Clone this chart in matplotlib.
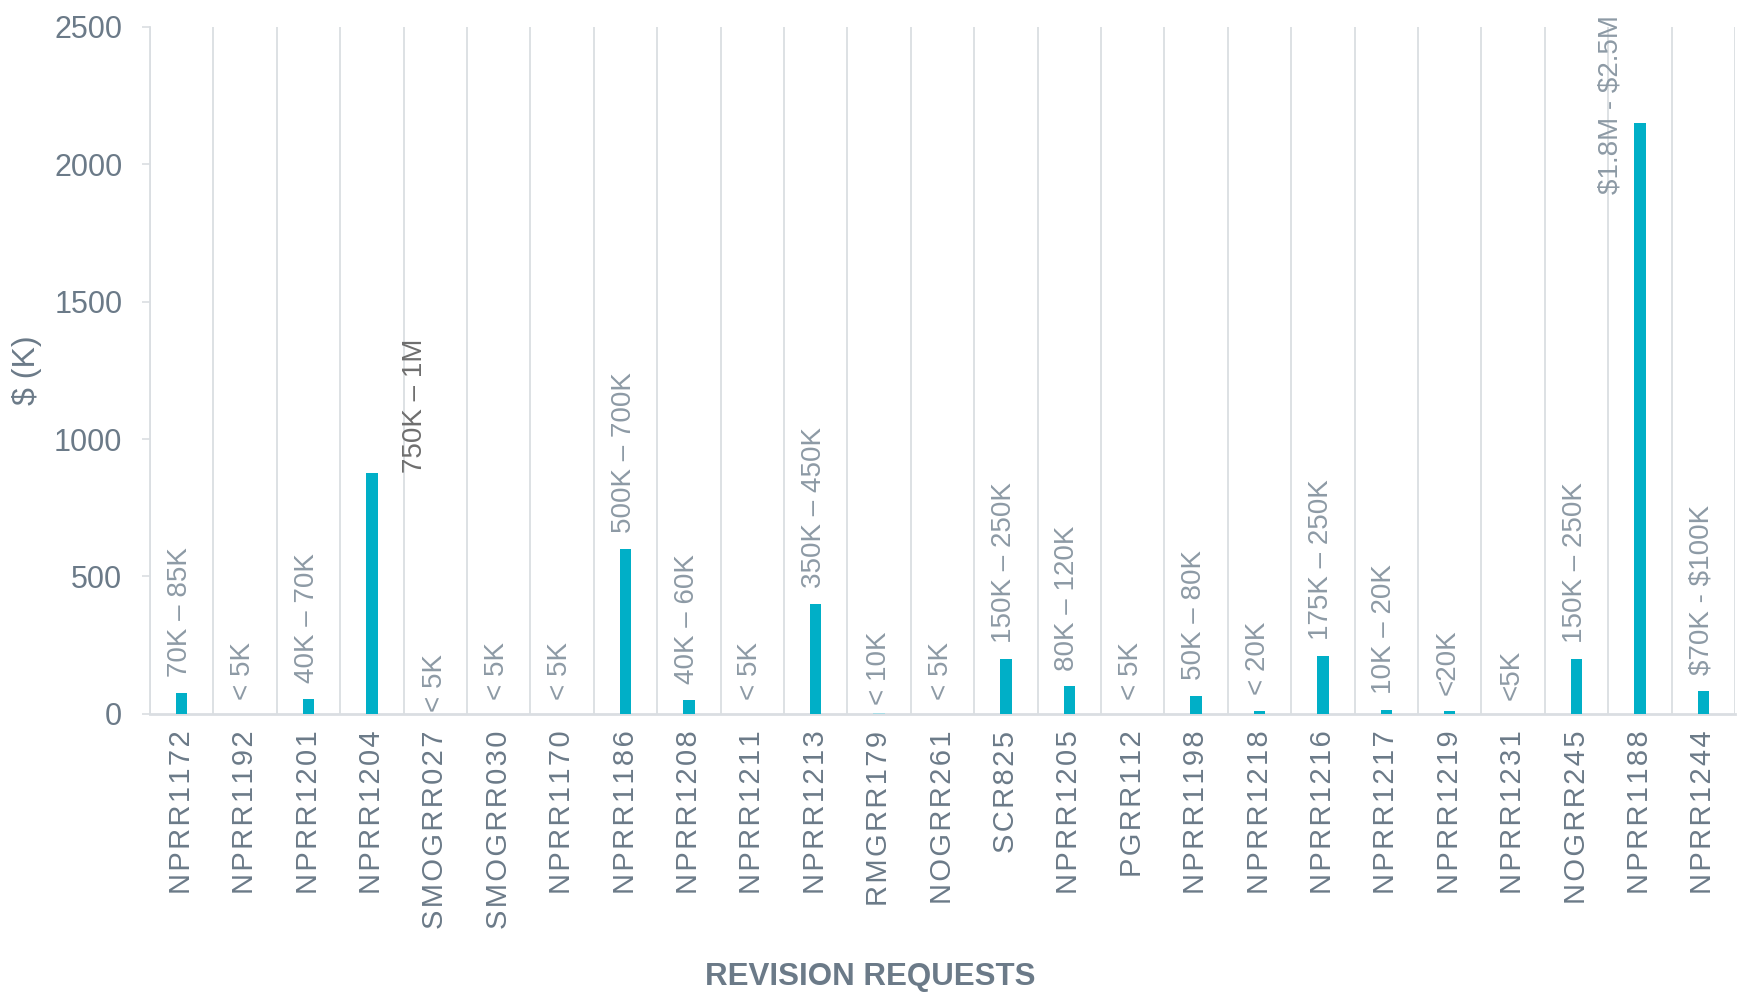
import matplotlib
matplotlib.use("Agg")
import matplotlib.pyplot as plt
import numpy as np

plt.rcParams['font.family'] = ['Liberation Sans', 'DejaVu Sans']
plt.rcParams['text.parse_math'] = False

# revision requests and their estimated cost ($K, midpoint of the range)
requests = ['NPRR1172', 'NPRR1192', 'NPRR1201', 'NPRR1204', 'SMOGRR027', 'SMOGRR030',
            'NPRR1170', 'NPRR1186', 'NPRR1208', 'NPRR1211', 'NPRR1213', 'RMGRR179',
            'NOGRR261', 'SCR825', 'NPRR1205', 'PGRR112', 'NPRR1198', 'NPRR1218',
            'NPRR1216', 'NPRR1217', 'NPRR1219', 'NPRR1231', 'NOGRR245', 'NPRR1188',
            'NPRR1244']
cost = [75, 0, 55, 875, 0, 0, 0, 600, 50, 0, 400, 5, 0, 200, 100, 0, 65, 10,
        212, 15, 10, 0, 200, 2150, 85]
range_labels = ['70K \u2013 85K', '< 5K', '40K \u2013 70K', '750K \u2013 1M', '< 5K', '< 5K',
                '< 5K', '500K \u2013 700K', '40K \u2013 60K', '< 5K', '350K \u2013 450K', '< 10K',
                '< 5K', '150K \u2013 250K', '80K \u2013 120K', '< 5K', '50K \u2013 80K', '< 20K',
                '175K \u2013 250K', '10K \u2013 20K', '<20K', '<5K', '150K \u2013 250K',
                '$1.8M - $2.5M', '$70K - $100K']
yticks = [0, 500, 1000, 1500, 2000, 2500]

bar_color = '#00AFC7'
faint_bar = '#A9DCE5'
text_color = '#6B7A88'
label_color = '#8D9AA5'
grid_color = '#DADEE2'


def spaced(s):
    # the original tick labels have a little letter spacing
    return '\u200a'.join(s)


fig = plt.figure(figsize=(17.41, 9.93), dpi=100)
ax = fig.add_axes([0.0862, 0.281, 0.9104, 0.6922])

x = np.arange(len(requests))
colors = [faint_bar if 0 < v < 8 else bar_color for v in cost]
ax.bar(x, cost, width=0.18, color=colors, zorder=3)

# category separators
for b in np.arange(len(requests) + 1) - 0.5:
    ax.axvline(b, color=grid_color, lw=1.3, zorder=1)

# data labels, a few are nudged like in the original
nudge = {3: (0.68, -55), 23: (-0.47, -318), 4: (0.0, -45), 11: (0.0, -30)}
for i, (v, t) in enumerate(zip(cost, range_labels)):
    dx, dy = nudge.get(i, (-0.03, 0))
    ty = v + 58 + dy if v > 0 else 52 + dy
    c = '#6E6E6E' if i == 3 else label_color
    ax.text(i + dx, ty, t, rotation=90, ha='center', va='bottom',
            fontsize=20, color=c, zorder=4)

ax.set_xlim(-0.5, len(requests) - 0.5)
ax.set_ylim(0, 2500)
ax.set_yticks(yticks)
ax.set_xticks(x)
ax.set_xticklabels([spaced(r) for r in requests], rotation=90, fontsize=21, color=text_color)
ax.tick_params(axis='x', length=0, pad=12)
ax.tick_params(axis='y', length=6, width=1.2, color=grid_color, pad=14,
               labelsize=22, labelcolor=text_color)

for s in ['top', 'right']:
    ax.spines[s].set_visible(False)
ax.spines['left'].set_color(grid_color)
ax.spines['bottom'].set_color(grid_color)
ax.spines['left'].set_linewidth(1.3)
ax.spines['bottom'].set_linewidth(2)

ax.set_ylabel('$ (K)', fontsize=23, color=text_color)
ax.yaxis.set_label_coords(-0.068, 0.5)

fig.text(0.5, 0.016, 'REVISION REQUESTS', ha='center', va='center',
         fontsize=22.5, fontweight='bold', color=text_color)

fig.savefig('out.png', dpi=100)
